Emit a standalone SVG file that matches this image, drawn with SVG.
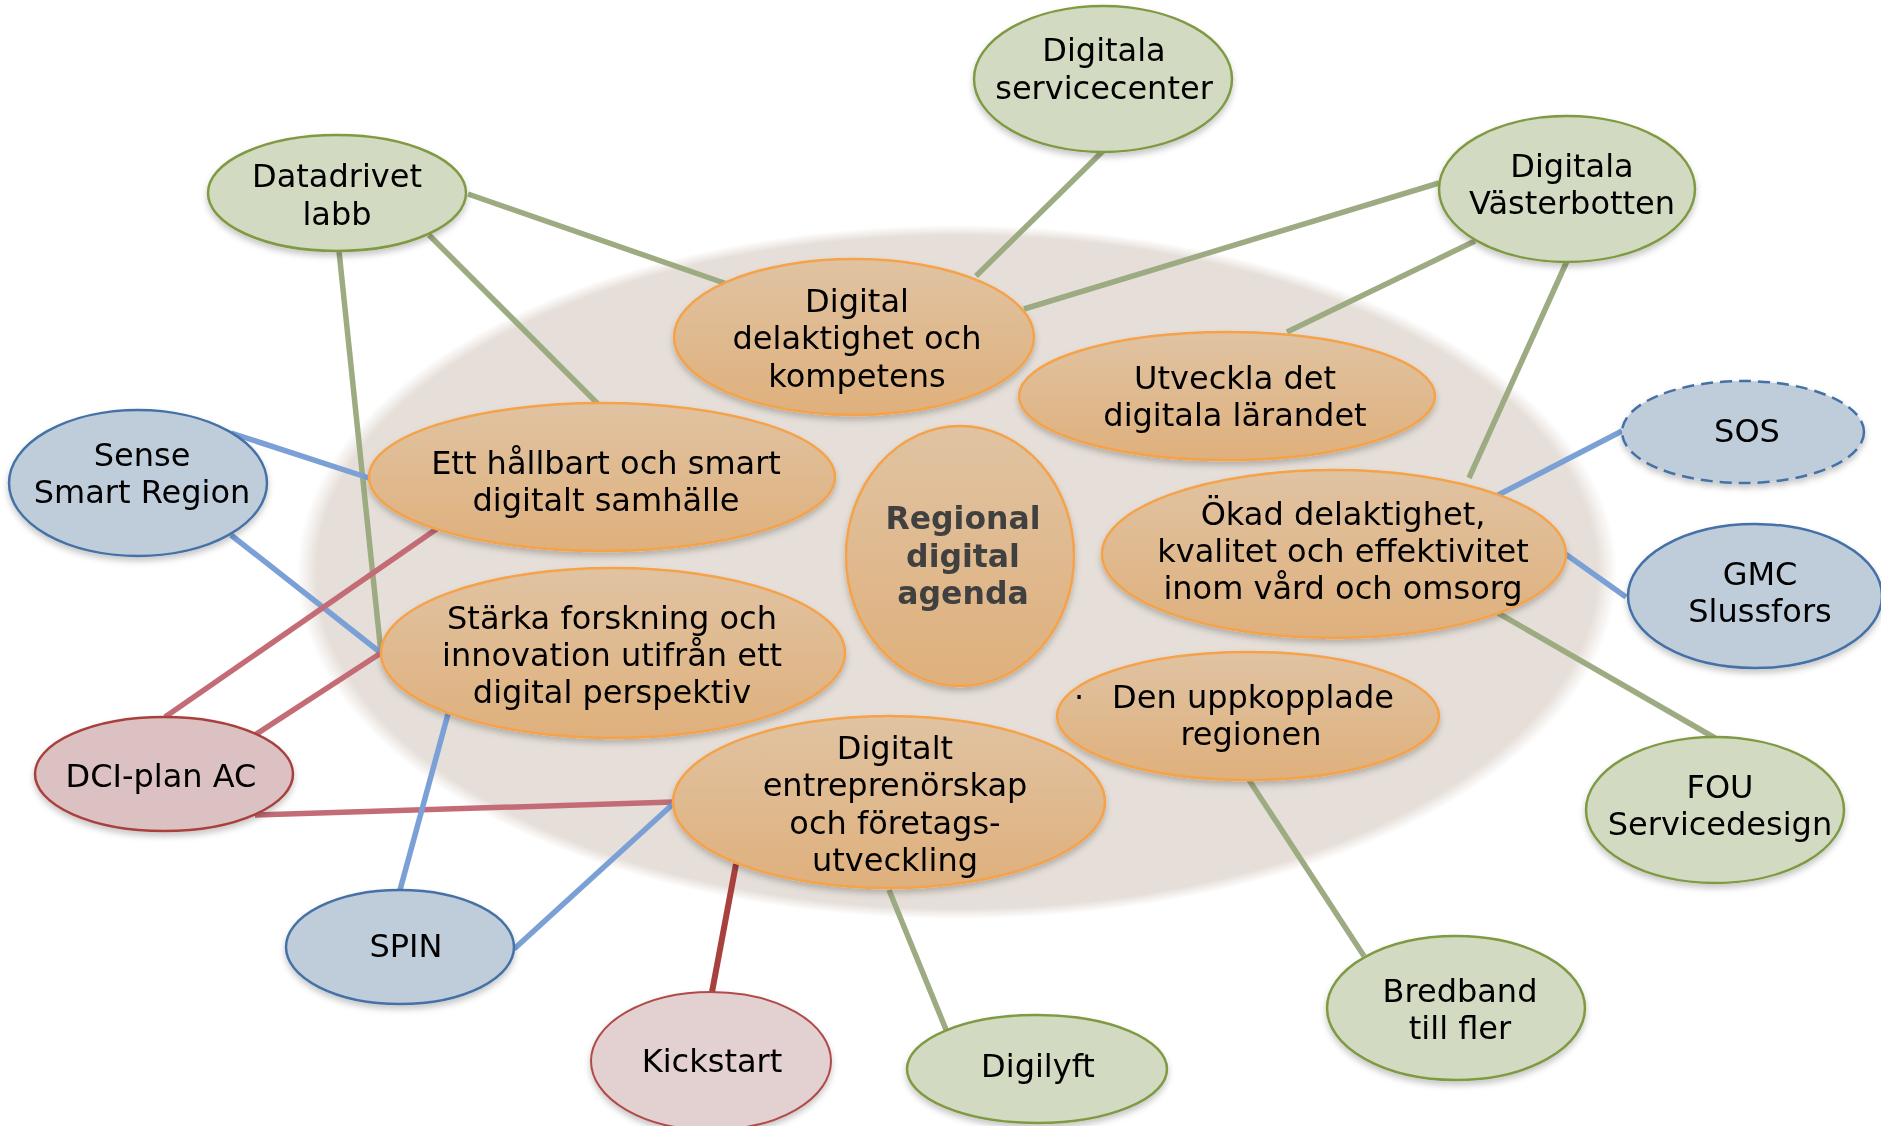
<svg xmlns="http://www.w3.org/2000/svg" width="1881" height="1126" viewBox="0 0 1881 1126">
<defs>
  <linearGradient id="og" x1="0" y1="0" x2="0" y2="1">
    <stop offset="0" stop-color="#e0c3a2"/>
    <stop offset="1" stop-color="#dfb07c"/>
  </linearGradient>
  <radialGradient id="bg" cx="0.5" cy="0.5" r="0.5">
    <stop offset="0.9" stop-color="#e6dfd9"/>
    <stop offset="0.97" stop-color="#e6dfd9"/>
    <stop offset="1" stop-color="#e6dfd9" stop-opacity="0"/>
  </radialGradient>
  <filter id="sh" x="-20%" y="-20%" width="140%" height="150%">
    <feDropShadow dx="0" dy="4" stdDeviation="3" flood-color="#000" flood-opacity="0.22"/>
  </filter>
</defs>
<style>
  .t { font-family: "DejaVu Sans", Verdana, sans-serif; font-size: 32px; fill: #000; text-anchor: middle; dominant-baseline: central; }
  .b { font-weight: bold; fill: #404040; font-size: 31.5px; }
  .green { fill: #d2dbc1; stroke: #7f9a43; stroke-width: 2.5; }
  .blue { fill: #bfcddb; stroke: #4471a6; stroke-width: 2.5; }
  .pink { fill: #dcc1c2; stroke: #a8403e; stroke-width: 2.5; }
  .pink2 { fill: #e3d0d1; stroke: #b04c4a; stroke-width: 2; }
  .orange { fill: url(#og); stroke: #f5a24a; stroke-width: 2.5; }
  .cg { stroke: #9dab82; stroke-width: 5.5; fill: none; }
  .cb { stroke: #7aa0d6; stroke-width: 5.5; fill: none; }
  .cr { stroke: #c46c76; stroke-width: 5.5; fill: none; }
  .ck { stroke: #a8413e; stroke-width: 6; fill: none; }
</style>

<ellipse id="background" cx="957" cy="572" rx="660" ry="347" fill="url(#bg)"/>

<g id="connectors">
  <line class="cg" x1="468" y1="194" x2="727" y2="284" stroke-width="7"/>
  <line class="cg" x1="429" y1="235" x2="600" y2="406"/>
  <line class="cg" x1="339" y1="251" x2="381" y2="653"/>
  <line class="cb" x1="231" y1="433" x2="369" y2="478"/>
  <line class="cb" x1="231" y1="535" x2="381" y2="653"/>
  <line class="cr" x1="165" y1="717" x2="438" y2="528"/>
  <line class="cr" x1="255" y1="735" x2="381" y2="653"/>
  <line class="cr" x1="255" y1="815" x2="673" y2="802" stroke-width="7"/>
  <line class="cb" x1="400" y1="890" x2="448" y2="714"/>
  <line class="cb" x1="514" y1="949" x2="673" y2="804"/>
  <line class="ck" x1="712" y1="992" x2="736" y2="864"/>
  <line class="cg" x1="889" y1="890" x2="947" y2="1032"/>
  <line class="cg" x1="1103" y1="151" x2="976" y2="276"/>
  <line class="cg" x1="1439" y1="183" x2="1024" y2="309" stroke-width="7"/>
  <line class="cg" x1="1475" y1="241" x2="1287" y2="332"/>
  <line class="cg" x1="1567" y1="261" x2="1469" y2="478"/>
  <line class="cb" x1="1622" y1="431" x2="1498" y2="495"/>
  <line class="cb" x1="1564" y1="553" x2="1626" y2="597"/>
  <line class="cg" x1="1498" y1="613" x2="1715" y2="738"/>
  <line class="cg" x1="1249" y1="780" x2="1364" y2="956"/>
</g>

<g id="n-servicecenter" filter="url(#sh)">
  <ellipse class="green" cx="1103" cy="79" rx="129" ry="73"/>
  <text class="t" x="1104" y="50">Digitala</text>
  <text class="t" x="1104" y="88">servicecenter</text>
</g>
<g id="n-datadrivet" filter="url(#sh)">
  <ellipse class="green" cx="337" cy="193" rx="129" ry="58"/>
  <text class="t" x="337" y="176">Datadrivet</text>
  <text class="t" x="337" y="214">labb</text>
</g>
<g id="n-vasterbotten" filter="url(#sh)">
  <ellipse class="green" cx="1567" cy="189" rx="128" ry="73"/>
  <text class="t" x="1572" y="166">Digitala</text>
  <text class="t" x="1572" y="203">Västerbotten</text>
</g>
<g id="n-delaktighet" filter="url(#sh)">
  <ellipse class="orange" cx="854" cy="337" rx="180" ry="78"/>
  <text class="t" x="857" y="301">Digital</text>
  <text class="t" x="857" y="338">delaktighet och</text>
  <text class="t" x="857" y="376">kompetens</text>
</g>
<g id="n-utveckla" filter="url(#sh)">
  <ellipse class="orange" cx="1227" cy="396" rx="208" ry="64"/>
  <text class="t" x="1235" y="378">Utveckla det</text>
  <text class="t" x="1235" y="415">digitala lärandet</text>
</g>
<g id="n-sos" filter="url(#sh)">
  <ellipse class="blue" cx="1743" cy="432" rx="121" ry="51" stroke-dasharray="12 7"/>
  <text class="t" x="1747" y="431">SOS</text>
</g>
<g id="n-sense" filter="url(#sh)">
  <ellipse class="blue" cx="138" cy="483" rx="129" ry="73"/>
  <text class="t" x="142" y="455">Sense</text>
  <text class="t" x="142" y="492">Smart Region</text>
</g>
<g id="n-hallbart" filter="url(#sh)">
  <ellipse class="orange" cx="602" cy="477" rx="233" ry="74"/>
  <text class="t" x="606" y="463">Ett hållbart och smart</text>
  <text class="t" x="606" y="500">digitalt samhälle</text>
</g>
<g id="n-regional" filter="url(#sh)">
  <ellipse class="orange" cx="960" cy="556" rx="114" ry="130"/>
  <text class="t b" x="963" y="518">Regional</text>
  <text class="t b" x="963" y="556">digital</text>
  <text class="t b" x="963" y="593">agenda</text>
</g>
<g id="n-okad" filter="url(#sh)">
  <ellipse class="orange" cx="1334" cy="554" rx="232" ry="84"/>
  <text class="t" x="1343" y="514">Ökad delaktighet,</text>
  <text class="t" x="1343" y="551">kvalitet och effektivitet</text>
  <text class="t" x="1343" y="588">inom vård och omsorg</text>
</g>
<g id="n-gmc" filter="url(#sh)">
  <ellipse class="blue" cx="1755" cy="596" rx="127" ry="72"/>
  <text class="t" x="1760" y="574">GMC</text>
  <text class="t" x="1760" y="611">Slussfors</text>
</g>
<g id="n-starka" filter="url(#sh)">
  <ellipse class="orange" cx="613" cy="653" rx="232" ry="85"/>
  <text class="t" x="612" y="618">Stärka forskning och</text>
  <text class="t" x="612" y="655">innovation utifrån ett</text>
  <text class="t" x="612" y="692">digital perspektiv</text>
</g>
<g id="n-uppkopplade" filter="url(#sh)">
  <ellipse class="orange" cx="1248" cy="716" rx="191" ry="64"/>
  <text class="t" x="1079" y="697" font-size="20">·</text>
  <text class="t" x="1253" y="697">Den uppkopplade</text>
  <text class="t" x="1251" y="734">regionen</text>
</g>
<g id="n-dci" filter="url(#sh)">
  <ellipse class="pink" cx="164" cy="774" rx="129" ry="57"/>
  <text class="t" x="161" y="776">DCI-plan AC</text>
</g>
<g id="n-fou" filter="url(#sh)">
  <ellipse class="green" cx="1715" cy="810" rx="129" ry="73"/>
  <text class="t" x="1720" y="787">FOU</text>
  <text class="t" x="1720" y="824">Servicedesign</text>
</g>
<g id="n-entreprenorskap" filter="url(#sh)">
  <ellipse class="orange" cx="889" cy="802" rx="216" ry="86"/>
  <text class="t" x="895" y="748">Digitalt</text>
  <text class="t" x="895" y="785">entreprenörskap</text>
  <text class="t" x="895" y="823">och företags-</text>
  <text class="t" x="895" y="860">utveckling</text>
</g>
<g id="n-spin" filter="url(#sh)">
  <ellipse class="blue" cx="400" cy="947" rx="114" ry="57"/>
  <text class="t" x="406" y="946">SPIN</text>
</g>
<g id="n-bredband" filter="url(#sh)">
  <ellipse class="green" cx="1456" cy="1008" rx="129" ry="72"/>
  <text class="t" x="1460" y="991">Bredband</text>
  <text class="t" x="1460" y="1028">till fler</text>
</g>
<g id="n-kickstart" filter="url(#sh)">
  <ellipse class="pink2" cx="711" cy="1061" rx="120" ry="69"/>
  <text class="t" x="712" y="1061">Kickstart</text>
</g>
<g id="n-digilyft" filter="url(#sh)">
  <ellipse class="green" cx="1037" cy="1069" rx="130" ry="54"/>
  <text class="t" x="1038" y="1066">Digilyft</text>
</g>
</svg>
